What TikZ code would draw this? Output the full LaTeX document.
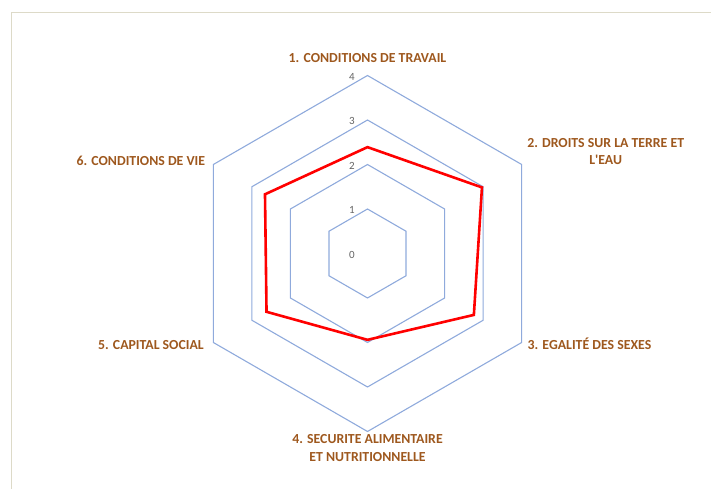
\documentclass[tikz,border=0pt]{standalone}
\usepackage{fontspec}
\setmainfont{Carlito}
\definecolor{axisbrown}{RGB}{158,88,30}
\definecolor{gridblue}{RGB}{143,170,220}
\definecolor{framegray}{RGB}{221,218,200}
\definecolor{tickgray}{RGB}{100,100,100}
\tikzstyle{gridline} = [draw=gridblue, line width=1.1pt, line join=miter]
\tikzstyle{scoreline} = [draw=red, line width=2.6pt, line join=miter]
\tikzstyle{axislabel} = [text=axisbrown, font=\fontsize{13.8}{17.6}\selectfont\bfseries, inner sep=0pt, align=center, text height=8.7pt, text depth=0pt]
\tikzstyle{ticklabel} = [text=tickgray, font=\fontsize{11}{12}\selectfont, inner sep=0pt, anchor=east, text height=7pt, text depth=0pt]

\begin{document}
\begin{tikzpicture}
	\useasboundingbox (0,0) rectangle (711pt,489pt);
	\draw[framegray, line width=1.5pt] (11.7pt,0) -- (11.7pt,476.7pt) -- (712pt,476.7pt);
	\begin{scope}[shift={(367.5pt,235.5pt)}, x=44.5pt, y=44.5pt]
		% grille
		\foreach \r in {1,2,3,4}
			\draw[gridline] (90:\r) -- (30:\r) -- (-30:\r) -- (-90:\r) -- (210:\r) -- (150:\r) -- cycle;
		\foreach \r in {0,1,2,3,4}
			\node[ticklabel] (tick\r) at ([xshift=-12.5pt,yshift=-1.5pt]90:\r) {\r};
		% sommets exterieurs
		\coordinate (o1) at (90:4);
		\coordinate (o2) at (30:4);
		\coordinate (o3) at (-30:4);
		\coordinate (o4) at (-90:4);
		\coordinate (o5) at (210:4);
		\coordinate (o6) at (150:4);
		% scores
		\coordinate (s1) at (90:2.39);
		\coordinate (s2) at (30:2.97);
		\coordinate (s3) at (-30:2.76);
		\coordinate (s4) at (-90:1.94);
		\coordinate (s5) at (210:2.62);
		\coordinate (s6) at (150:2.66);
		\draw[scoreline] (s1) -- (s2) -- (s3) -- (s4) -- (s5) -- (s6) -- cycle;
	\end{scope}
	\node[axislabel] (lab1) at ([yshift=17.2pt]o1) {1. CONDITIONS DE TRAVAIL};
	\node[axislabel, anchor=west] (lab2) at ([xshift=5.4pt,yshift=4pt]o2) {2. DROITS SUR LA TERRE ET\\L\textquotesingle EAU};
	\node[axislabel, anchor=west] (lab3) at ([xshift=5.8pt,yshift=-2.5pt]o3) {3. EGALITÉ DES SEXES};
	\node[axislabel] (lab4) at ([yshift=-25.2pt]o4) {4. SECURITE ALIMENTAIRE\\ET NUTRITIONNELLE};
	\node[axislabel, anchor=east] (lab5) at ([xshift=-9.4pt,yshift=-2.5pt]o5) {5. CAPITAL SOCIAL};
	\node[axislabel, anchor=east] (lab6) at ([xshift=-8pt,yshift=3.8pt]o6) {6. CONDITIONS DE VIE};
\end{tikzpicture}
\end{document}
